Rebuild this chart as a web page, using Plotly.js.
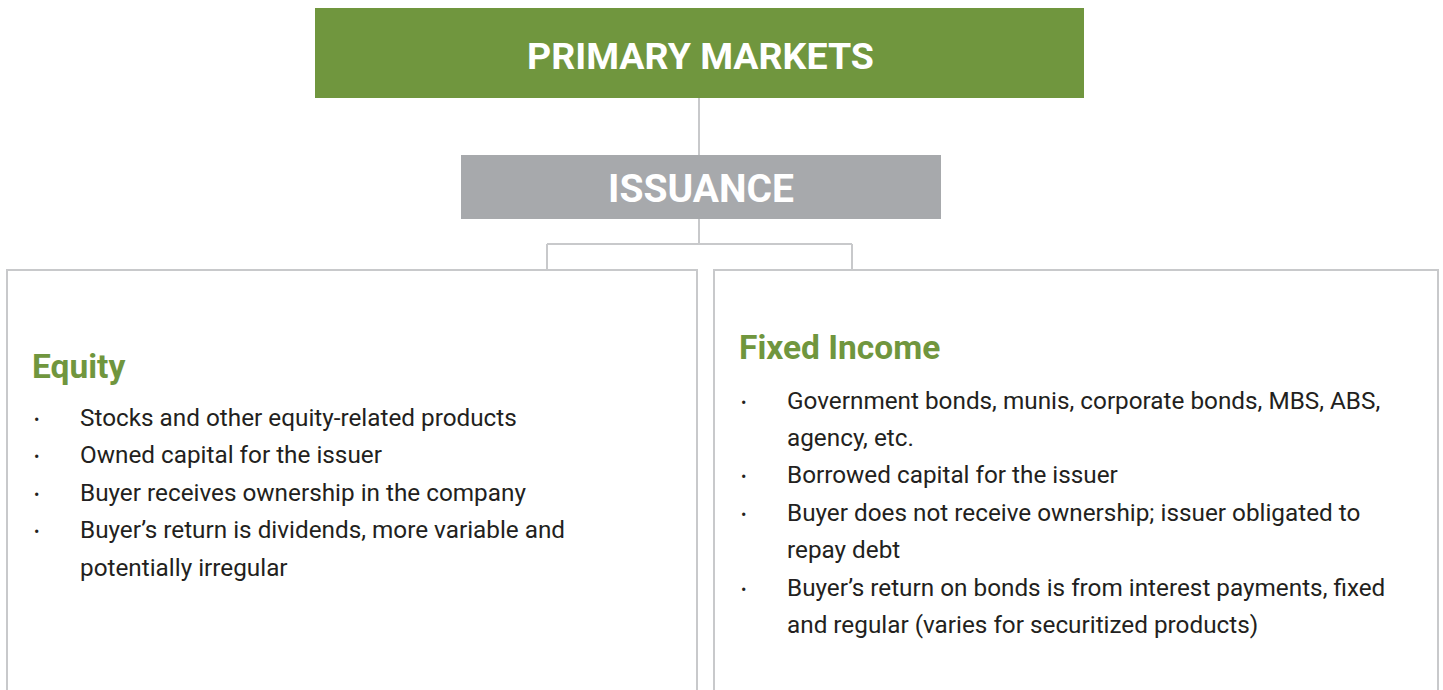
<!DOCTYPE html>
<html>
<head>
<meta charset="utf-8">
<script src="https://cdn.plot.ly/plotly-3.0.1.min.js"></script>
<style>html,body{margin:0;padding:0;background:#fff;}#chart{width:1443px;height:690px;}</style>
</head>
<body>
<div id="chart"></div>
<script>
// ---- content ----
const topLabel = "PRIMARY MARKETS";
const midLabel = "ISSUANCE";
const columnTitles = ["Equity", "Fixed Income"];
const equityBullets = [
  ["Stocks and other equity-related products"],
  ["Owned capital for the issuer"],
  ["Buyer receives ownership in the company"],
  ["Buyer’s return is dividends, more variable and", "potentially irregular"]
];
const fixedIncomeBullets = [
  ["Government bonds, munis, corporate bonds, MBS, ABS,", "agency, etc."],
  ["Borrowed capital for the issuer"],
  ["Buyer does not receive ownership; issuer obligated to", "repay debt"],
  ["Buyer’s return on bonds is from interest payments, fixed", "and regular (varies for securitized products)"]
];

// ---- style ----
const GREEN = "#70963e";
const GRAY = "#a7a9ac";
const LINE = "#c8c9cb";
const TEXT = "#231f20";
const FONT = "Roboto, 'Open Sans', sans-serif";

const shapes = [];
const annotations = [];

function rect(x0, y0, x1, y1, fill, lineColor, lw) {
  shapes.push({type: "rect", xref: "x", yref: "y", x0, y0, x1, y1,
    fillcolor: fill, line: {color: lineColor || fill, width: lw || 0}, layer: "below"});
}
function line(x0, y0, x1, y1) {
  shapes.push({type: "line", xref: "x", yref: "y", x0, y0, x1, y1,
    line: {color: LINE, width: 2}});
}

// connectors
line(699, 98, 699, 155);
line(699, 219, 699, 244);
line(547, 244, 852, 244);
line(547, 244, 547, 270);
line(852, 244, 852, 270);

// boxes
rect(315, 8, 1084, 98, GREEN);
rect(461, 155, 941, 219, GRAY);
rect(7, 270, 697, 700, "rgba(0,0,0,0)", LINE, 2);
rect(714, 270, 1438, 700, "rgba(0,0,0,0)", LINE, 2);

annotations.push({x: 700, y: 56, text: "<b>" + topLabel + "</b>", showarrow: false,
  xanchor: "center", yanchor: "middle", font: {family: FONT, size: 37.5, color: "#ffffff"}});
annotations.push({x: 701, y: 189, text: "<b>" + midLabel + "</b>", showarrow: false,
  xanchor: "center", yanchor: "middle", font: {family: FONT, size: 39, color: "#ffffff"}});

function column(title, bullets, xTitle, yTitle, xBullet, xText, yStart, step) {
  annotations.push({x: xTitle, y: yTitle, text: "<b>" + title + "</b>", showarrow: false,
    xanchor: "left", yanchor: "middle", font: {family: FONT, size: 33.5, color: GREEN}});
  let y = yStart;
  bullets.forEach(item => {
    annotations.push({x: xBullet, y: y + 2, text: "•", showarrow: false,
      xanchor: "left", yanchor: "middle", font: {family: FONT, size: 16, color: TEXT}});
    item.forEach(ln => {
      annotations.push({x: xText, y: y, text: ln, showarrow: false,
        xanchor: "left", yanchor: "middle", font: {family: FONT, size: 24.3, color: TEXT}});
      y += step;
    });
  });
}
column(columnTitles[0], equityBullets, 30, 366, 32, 78, 417, 37.5);
column(columnTitles[1], fixedIncomeBullets, 737, 347, 739, 785, 400, 37.4);

const layout = {
  width: 1443, height: 690,
  margin: {l: 0, r: 0, t: 0, b: 0},
  paper_bgcolor: "#ffffff", plot_bgcolor: "#ffffff",
  xaxis: {range: [0, 1443], visible: false, fixedrange: true},
  yaxis: {range: [690, 0], visible: false, fixedrange: true},
  showlegend: false,
  shapes, annotations
};
Plotly.newPlot("chart", [], layout, {staticPlot: true, displayModeBar: false});
</script>
</body>
</html>
